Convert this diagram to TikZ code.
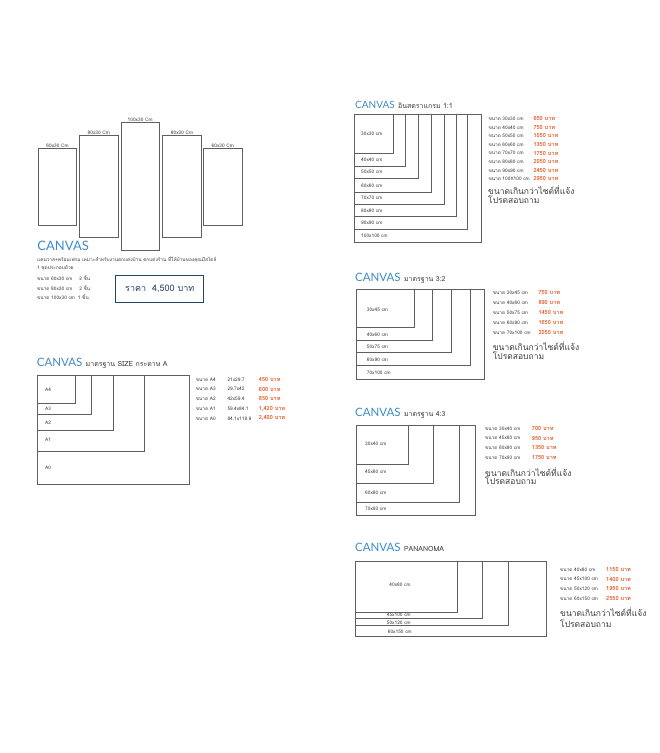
\documentclass[tikz,border=0pt]{standalone}
\usepackage{fontspec}
\usepackage{tikz}
\usetikzlibrary{positioning}
\newfontfamily\thaifont[Script=Thai]{Loma}
\newfontfamily\titlefont{Lato}
\definecolor{canvasblue}{RGB}{62,140,200}
\definecolor{priceorange}{RGB}{236,88,34}
\definecolor{framegray}{RGB}{95,95,95}
\definecolor{textgray}{RGB}{60,60,60}
\definecolor{boxnavy}{RGB}{38,72,104}

\begin{document}
\begin{tikzpicture}[x=1pt,y=-1pt,
                    frame/.style={draw=framegray,line width=0.6pt},
                    lbl/.style={font=\thaifont\fontsize{4.8}{6}\selectfont,text=textgray,anchor=west,inner sep=0pt},
                    price/.style={font=\thaifont\bfseries\fontsize{5.6}{6}\selectfont,text=priceorange,anchor=west,inner sep=0pt},
                    note/.style={font=\thaifont\fontsize{8.5}{9}\selectfont,text=textgray,anchor=west,inner sep=0pt}]
  \tikzstyle{title}=[font=\titlefont\fontsize{11.5}{12}\selectfont,text=canvasblue,anchor=base west,inner sep=0pt]
  \tikzstyle{subtitle}=[font=\thaifont\fontsize{7}{8}\selectfont,text=textgray,anchor=base west,inner sep=0pt]
  \useasboundingbox[fill=white] (0,0) rectangle (660,753);

  % five piece set
  \foreach \l/\t/\r/\b/\s [count=\i] in {38.3/148.3/76.7/225/60x30,79.3/135.3/118.3/237.3/80x30,
      121/122.7/159.3/250/100x30,162.3/135.3/201.7/237.3/80x30,203.3/148.3/242.3/225/60x30}
  {
    \draw[frame] (\l,\t) rectangle (\r,\b);
    \node[lbl,anchor=south] (set\i) at ({(\l+\r)/2},\t-0.6) {\s\ Cm};
  }
  \node[title,font=\titlefont\fontsize{13}{13}\selectfont] (tset) at (37.3,250) {CANVAS};
  \node[lbl] (desc1) at (37,260) {แคนวาส+พร้อมเฟรม เหมาะสำหรับงานตกแต่งบ้าน ตกแต่งร้าน ที่ให้บ้านของคุณมีสไตล์};
  \node[lbl] (desc2) at (37,268.3) {1 ชุดประกอบด้วย};
  \node[lbl] (desc3) at (37,278.3) {ขนาด 60x30 cm\hspace{7pt}2 ชิ้น};
  \node[lbl] (desc4) at (37,287.7) {ขนาด 80x30 cm\hspace{7pt}2 ชิ้น};
  \node[lbl] (desc5) at (37,297.3) {ขนาด 100x30 cm\hspace{3pt}1 ชิ้น};
  \node[draw=boxnavy,line width=1.3pt,minimum width=88pt,minimum height=27pt,
        font=\thaifont\fontsize{9}{10}\selectfont,text=boxnavy] (setprice) at (159.8,289) {ราคา\hspace{6pt}4,500 บาท};

  % 1:1
  \node[title,font=\titlefont\fontsize{10}{10}\selectfont] (tsq) at (355,108.3) {CANVAS};
  \node[subtitle] (tsqs) at ([xshift=3pt]tsq.base east) {อินสตราแกรม 1:1};
  \foreach \r/\b/\y/\s [count=\i] in {393.3/153.3/134/30x30,405/166/160/40x40,418.3/178.7/172/50x50,
      431.7/192/185.3/60x60,444.3/204.3/197.7/70x70,456.7/216.7/210.3/80x80,467.7/229/222.7/90x90,481/242.7/236/100x100}
  {
    \draw[frame] (354.3,114.3) rectangle (\r,\b);
    \node[lbl] (sq\i) at (361,\y) {\s\ cm};
  }
  \foreach \s/\p [count=\i] in {30x30/650,40x40/750,50x50/1050,60x60/1350,70x70/1750,80x80/2050,90x90/2450,100X100/2950}
  {
    \node[lbl] (sqsize\i) at (488.3,{118.7+8.6*(\i-1)}) {ขนาด \s\ cm};
    \node[price] (sqprice\i) at (533.3,{118.7+8.6*(\i-1)}) {\p\ บาท};
  }
  \node[note] (sqnote1) at (488,189.7) {ขนาดเกินกว่าไซต์ที่แจ้ง};
  \node[note] (sqnote2) at (488,199.7) {โปรดสอบถาม};

  % 3:2
  \node[title] (tst) at (355,281) {CANVAS};
  \node[subtitle] (tsts) at ([xshift=3pt]tst.base east) {มาตรฐาน 3:2};
  \foreach \r/\b/\y/\s [count=\i] in {414.3/327.3/310/30x45,432.3/340.7/334.3/40x60,451.7/352.7/346.7/50x75,
      470/365.7/360/60x90,484/379/372.7/70x100}
  {
    \draw[frame] (356.7,289) rectangle (\r,\b);
    \node[lbl] (st\i) at (366.7,\y) {\s\ cm};
  }
  \foreach \s/\p [count=\i] in {30x45/750,40x60/890,50x75/1450,60x90/1650,70x100/2050}
  {
    \node[lbl] (stsize\i) at (492.7,{292.7+9.9*(\i-1)}) {ขนาด \s\ cm};
    \node[price] (stprice\i) at (538.3,{292.7+9.9*(\i-1)}) {\p\ บาท};
  }
  \node[note] (stnote1) at (492.7,346) {ขนาดเกินกว่าไซต์ที่แจ้ง};
  \node[note] (stnote2) at (492.7,355.7) {โปรดสอบถาม};

  % paper A
  \node[title] (ta) at (36.7,366.7) {CANVAS};
  \node[subtitle] (tas) at ([xshift=3pt]ta.base east) {มาตรฐาน SIZE กระดาษ A};
  \foreach \r/\b/\y/\s [count=\i] in {75.7/403.3/389.3/A4,91/414.3/409/A3,113.3/430/422.7/A2,
      144.3/451.7/439.3/A1,189/484.3/467.3/A0}
  {
    \draw[frame] (37.3,375.7) rectangle (\r,\b);
    \node[lbl] (pa\i) at (45,\y) {\s};
  }
  \foreach \s/\d/\p [count=\i] in {A4/21x29.7/450,A3/29.7x42/600,A2/42x59.4/850,A1/59.4x84.1/1{,}420,A0/84.1x118.9/2{,}400}
  {
    \node[lbl] (pasize\i) at (195.7,{379.3+9.75*(\i-1)}) {ขนาด \s};
    \node[lbl] (padim\i) at (227.3,{379.3+9.75*(\i-1)}) {\d};
    \node[price] (paprice\i) at (258.7,{379.3+9.75*(\i-1)}) {\p\ บาท};
  }

  % 4:3
  \node[title] (tft) at (355,416.7) {CANVAS};
  \node[subtitle] (tfts) at ([xshift=3pt]tft.base east) {มาตรฐาน 4:3};
  \foreach \r/\b/\y/\s [count=\i] in {408.7/464/444/30x40,433.3/483.3/471.7/45x60,459.3/502/492.7/60x80,475.7/515/508.3/70x93}
  {
    \draw[frame] (356.7,425) rectangle (\r,\b);
    \node[lbl] (ft\i) at (365,\y) {\s\ cm};
  }
  \foreach \s/\p [count=\i] in {30x40/700,45x60/950,60x80/1350,70x93/1750}
  {
    \node[lbl] (ftsize\i) at (485,{428.3+9.8*(\i-1)}) {ขนาด \s\ cm};
    \node[price] (ftprice\i) at (531.7,{428.3+9.8*(\i-1)}) {\p\ บาท};
  }
  \node[note] (ftnote1) at (485,471.7) {ขนาดเกินกว่าไซต์ที่แจ้ง};
  \node[note] (ftnote2) at (485,480.7) {โปรดสอบถาม};

  % panorama
  \node[title] (tpn) at (355,551.7) {CANVAS};
  \node[subtitle] (tpns) at ([xshift=3pt]tpn.base east) {PANANOMA};
  \foreach \r/\b in {457.3/612.3,482.7/618.3,508.3/625,546.7/636.7}
    \draw[frame] (355,561) rectangle (\r,\b);
  \node[lbl,anchor=center] (pn1) at (400,585) {40x80 cm};
  \node[lbl] (pn2) at (386.7,615) {45x100 cm};
  \node[lbl] (pn3) at (386.7,622.3) {50x120 cm};
  \node[lbl] (pn4) at (387.7,631.7) {60x150 cm};
  \foreach \s/\p [count=\i] in {40x80/1150,45x100/1400,50x120/1950,60x150/2550}
  {
    \node[lbl] (pnsize\i) at (560,{569.3+9.7*(\i-1)}) {ขนาด \s\ cm};
    \node[price] (pnprice\i) at (606,{569.3+9.7*(\i-1)}) {\p\ บาท};
  }
  \node[note] (pnnote1) at (560,612.3) {ขนาดเกินกว่าไซต์ที่แจ้ง};
  \node[note] (pnnote2) at (560,623.3) {โปรดสอบถาม};
\end{tikzpicture}
\end{document}
